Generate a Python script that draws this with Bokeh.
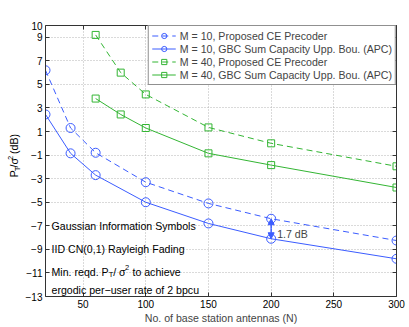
import math
from bokeh.plotting import figure
from bokeh.layouts import row
from bokeh.models import Range1d, FixedTicker, LinearAxis, Label, Arrow, NormalHead
from bokeh.embed import file_html
from bokeh.resources import INLINE

# ---- data ----
N_m10 = [20, 40, 60, 100, 150, 200, 300]
ce_m10 = [6.2, 1.3, -0.8, -3.3, -5.1, -6.4, -8.25]
gbc_m10 = [2.45, -0.85, -2.7, -5.0, -6.8, -8.1, -9.8]
N_m40 = [60, 80, 100, 150, 200, 300]
ce_m40 = [9.2, 6.0, 4.15, 1.35, 0.0, -1.95]
gbc_m40 = [3.8, 2.45, 1.3, -0.85, -1.85, -3.75]
x_ticks = [50, 100, 150, 200, 250, 300]
y_ticks = [-13, -11, -9, -7, -5, -3, -1, 1, 3, 5, 7, 9, 10]
series_labels = [
    "M = 10, Proposed CE Precoder",
    "M = 10, GBC Sum Capacity Upp. Bou. (APC)",
    "M = 40, Proposed CE Precoder",
    "M = 40, GBC Sum Capacity Upp. Bou. (APC)",
]
x_title = "No. of base station antennas (N)"
gap_label = "1.7  dB"
notes = ["Gaussian Information Symbols", "IID CN(0,1) Rayleigh Fading"]
last_note = "ergodic per\u2212user rate of 2 bpcu"

BLUE = "#3b5cff"
GREEN = "#33b533"
FONT = "Liberation Sans"
FS = "10.6px"
SUB = "7.5px"
em = 10.6
sem = 7.5
LEFT_W = 22

p = figure(width=409 - LEFT_W, height=327, x_range=Range1d(20, 300), y_range=Range1d(-13, 10),
           output_backend="svg", toolbar_location=None,
           min_border_left=44 - LEFT_W, min_border_right=13, min_border_top=25,
           min_border_bottom=31)
p.outline_line_color = None
p.background_fill_color = "white"
p.border_fill_color = "white"

# axes
for ax, ticks in ((p.xaxis[0], x_ticks), (p.yaxis[0], y_ticks)):
    ax.ticker = FixedTicker(ticks=ticks)
    ax.major_tick_in = 4
    ax.major_tick_out = 0
    ax.minor_tick_line_color = None
    ax.axis_line_color = "#333333"
    ax.major_tick_line_color = "#333333"
    ax.major_label_text_font = FONT
    ax.major_label_text_font_size = "10px"
    ax.major_label_text_color = "black"
    ax.major_label_standoff = 3
    ax.major_label_overrides = {t: str(t).replace("-", "\u2212") for t in ticks}
p.xaxis.axis_label = x_title
p.xaxis.axis_label_standoff = 1
p.xaxis.axis_label_text_font = FONT
p.xaxis.axis_label_text_font_size = FS
p.xaxis.axis_label_text_font_style = "normal"

for loc, ticks in (("right", y_ticks), ("above", x_ticks)):
    ax = LinearAxis(ticker=FixedTicker(ticks=ticks), major_tick_in=4, major_tick_out=0,
                    minor_tick_line_color=None, major_label_text_font_size="0px",
                    major_label_text_color=None,
                    major_label_standoff=0, axis_line_color="#333333",
                    major_tick_line_color="#333333")
    p.add_layout(ax, loc)

p.xgrid.ticker = FixedTicker(ticks=x_ticks)
p.ygrid.ticker = FixedTicker(ticks=y_ticks)
for g in (p.xgrid[0], p.ygrid[0]):
    g.grid_line_color = "#b5b5b5"
    g.grid_line_dash = "1 2"

# series
specs = [
    (N_m10, ce_m10, BLUE, "6 4", "circle", 9),
    (N_m10, gbc_m10, BLUE, "solid", "circle", 9),
    (N_m40, ce_m40, GREEN, "6 4", "square", 7),
    (N_m40, gbc_m40, GREEN, "solid", "square", 7),
]
for (xs, ys, col, dash, mk, sz), lab in zip(specs, series_labels):
    p.line(xs, ys, line_color=col, line_dash=dash, line_width=1, legend_label=lab)
    p.scatter(xs, ys, marker=mk, size=sz, line_color=col, fill_color=None,
              line_width=1, legend_label=lab)

lg = p.legend[0]
lg.location = "top_right"
lg.margin = 0
lg.padding = 3
lg.spacing = 0
lg.label_height = 13
lg.glyph_height = 13
lg.glyph_width = 24
lg.label_standoff = 4
lg.label_text_font = FONT
lg.label_text_font_size = FS
lg.border_line_color = "#222222"
lg.border_line_width = 1
lg.background_fill_alpha = 1.0

# arrow and gap label at N = 200
i200 = N_m10.index(200)
y_top, y_bot = ce_m10[i200], gbc_m10[i200]
y_mid = (y_top + y_bot) / 2
for y_end in (y_top, y_bot):
    p.add_layout(Arrow(x_start=200, y_start=y_mid, x_end=200, y_end=y_end,
                       line_color=BLUE, line_width=1.5,
                       end=NormalHead(size=6, line_color=BLUE, fill_color=BLUE)))
p.add_layout(Label(x=200, y=y_mid, x_offset=6, y_offset=-5, text=gap_label,
                   text_font=FONT, text_font_size=FS, text_baseline="middle"))


def lab(fig, x, y, text, dx=0, dy=0, size=FS, angle=0.0, align="left", baseline="middle"):
    fig.add_layout(Label(x=x, y=y, x_offset=dx, y_offset=dy, text=text, angle=angle,
                         text_font=FONT, text_font_size=size, text_align=align,
                         text_baseline=baseline, text_color="black"))


# notes inside the axes
lab(p, 20, -7, notes[0], dx=6)
lab(p, 20, -9, notes[1], dx=6)
lab(p, 20, -12.45, last_note, dx=6)
# "Min. reqd. P_T/ sigma^2 to achieve"
x0 = 6
lab(p, 20, -10.9, "Min. reqd. P", dx=x0)
x1 = x0 + 5.391 * em
lab(p, 20, -10.9, "T", dx=x1, dy=-3, size=SUB)
x2 = x1 + 0.611 * sem
lab(p, 20, -10.9, "/ \u03c3", dx=x2)
x3 = x2 + 1.12 * em
lab(p, 20, -10.9, "2", dx=x3, dy=4, size=SUB)
x4 = x3 + 0.556 * sem + 0.3 * em
lab(p, 20, -10.9, "to achieve", dx=x4)

# ---- narrow strip on the left carrying the y-axis title P_T/sigma^2 (dB) ----
q = figure(width=LEFT_W, height=327, x_range=Range1d(0, LEFT_W), y_range=Range1d(0, 327),
           output_backend="svg", toolbar_location=None,
           x_axis_location=None, y_axis_location=None, min_border=0)
q.outline_line_color = None
q.grid.visible = False
q.border_fill_color = "white"
q.background_fill_color = "white"

ang = math.pi / 2
cx = 13.5
s0 = 327 - 183
lab(q, cx, s0, "P", angle=ang)
s1 = s0 + 0.667 * em
lab(q, cx + 3, s1, "T", angle=ang, size=SUB)
s2 = s1 + 0.611 * sem
lab(q, cx, s2, "/\u03c3", angle=ang)
s3 = s2 + 0.86 * em
lab(q, cx - 4, s3, "2", angle=ang, size=SUB)
s4 = s3 + 0.556 * sem + 0.28 * em
lab(q, cx, s4, "(dB)", angle=ang)

layout = row(q, p, spacing=0)
open("out.html", "w").write(file_html(layout, INLINE))
